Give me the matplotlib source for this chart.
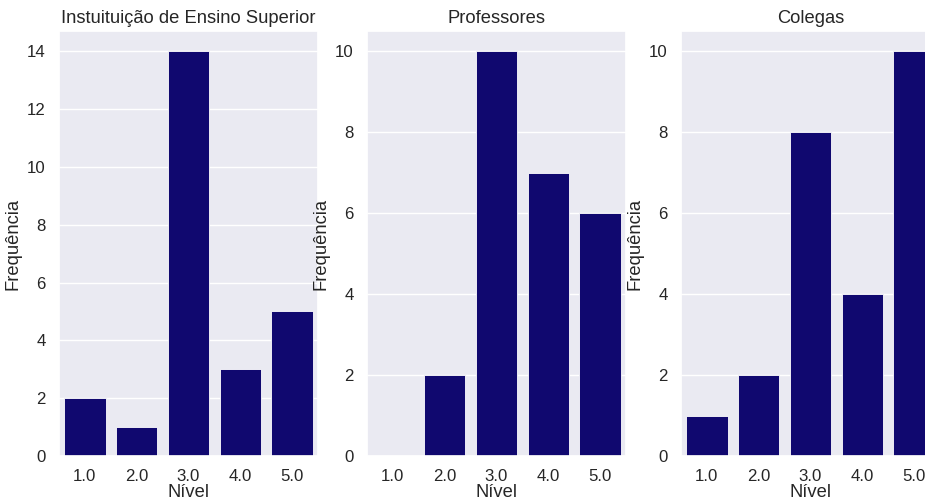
import matplotlib
matplotlib.use("Agg")
import matplotlib.pyplot as plt
import seaborn as sns

niveis = ["1.0", "2.0", "3.0", "4.0", "5.0"]
ies = [2, 1, 14, 3, 5]
professores = [0, 2, 10, 7, 6]
colegas = [1, 2, 8, 4, 10]

titulos = ["Instuituição de Ensino Superior", "Professores", "Colegas"]
series = [ies, professores, colegas]

sns.set_theme(style="darkgrid", font_scale=1.1)
plt.rcParams["font.family"] = ["Liberation Sans", "DejaVu Sans"]

fig = plt.figure(figsize=(9.25, 4.99), dpi=100)

# third panel runs past the right edge, like the cropped original
lefts = [59 / 925, 367 / 925, 681 / 925]
for left, titulo, valores in zip(lefts, titulos, series):
    ax = fig.add_axes([left, 43 / 499, 259 / 925, 425 / 499])
    x = list(range(len(niveis)))
    ax.bar(x, valores, width=0.8, color="#10086f", edgecolor="white", linewidth=0.6)
    ax.set_xticks(x)
    ax.set_xticklabels(niveis)
    ax.set_xlim(-0.5, len(niveis) - 0.5)
    ax.set_ylim(0, max(valores) * 1.05)
    ax.xaxis.grid(False)
    ax.set_title(titulo)
    ax.set_xlabel("Nível", labelpad=0)
    ax.set_ylabel("Frequência")

plt.savefig("out.png", dpi=100)
plt.close()
